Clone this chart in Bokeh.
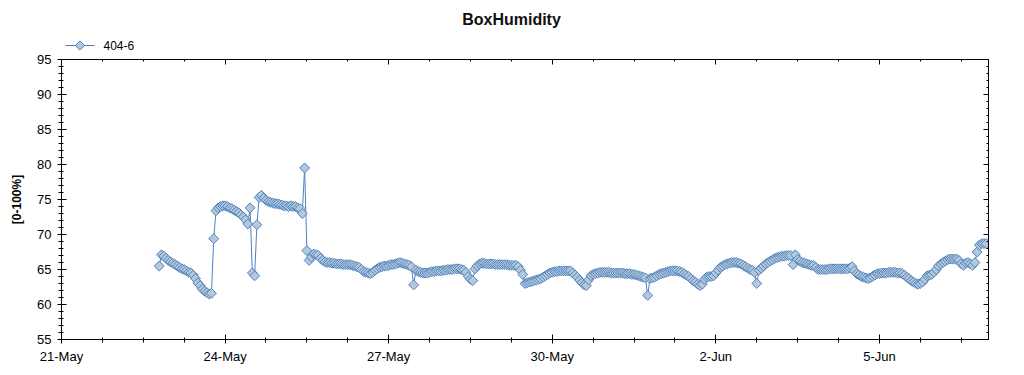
import numpy as np
from bokeh.plotting import figure
from bokeh.layouts import column
from bokeh.models import (FixedTicker, LinearAxis, Range1d, ColumnDataSource,
                          Label)
from bokeh.embed import file_html
from bokeh.resources import INLINE

# ---- data -------------------------------------------------------------
chart_title = "BoxHumidity"
series_name = "404-6"
y_axis_label = "[0-100%]"
x_tick_days = [0, 3, 6, 9, 12, 15]
x_tick_labels = ["21-May", "24-May", "27-May", "30-May", "2-Jun", "5-Jun"]
y_ticks = [55, 60, 65, 70, 75, 80, 85, 90, 95]
first_hour = 43  # hours after 21-May 00:00 of the first reading (hourly data)
humidity = [
    65.5, 67.1, 66.9, 66.6, 66.3,
    66.1, 65.9, 65.7, 65.5, 65.3, 65.1, 65.0, 64.8, 64.6, 64.5,
    64.2, 63.7, 63.1, 62.7, 62.2, 61.9, 61.7, 61.5, 61.6, 69.4,
    73.4, 73.8, 74.0, 74.1, 74.1, 74.0, 73.8, 73.7, 73.5, 73.3,
    73.1, 72.8, 72.5, 72.1, 71.5, 73.8, 64.5, 64.1, 71.4, 75.3,
    75.6, 75.2, 74.9, 74.7, 74.6, 74.5, 74.4, 74.4, 74.3, 74.2,
    74.1, 74.1, 74.0, 74.1, 74.0, 74.0, 73.8, 73.7, 73.0, 79.5,
    67.7, 66.3, 66.8, 67.2, 67.1, 67.0, 66.6, 66.3, 66.1, 66.0,
    66.0, 65.9, 65.9, 65.8, 65.8, 65.8, 65.7, 65.7, 65.7, 65.7,
    65.6, 65.5, 65.4, 65.3, 65.0, 64.7, 64.6, 64.5, 64.4, 64.6,
    64.9, 65.1, 65.3, 65.4, 65.5, 65.5, 65.6, 65.7, 65.7, 65.8,
    65.9, 66.0, 65.9, 65.8, 65.7, 65.6, 65.4, 62.8, 64.9, 64.7,
    64.6, 64.5, 64.5, 64.5, 64.6, 64.7, 64.7, 64.8, 64.8, 64.8,
    64.9, 64.9, 65.0, 65.0, 65.0, 65.1, 65.1, 65.1, 65.0, 64.9,
    64.6, 64.0, 63.6, 63.4, 65.1, 65.5, 65.8, 65.9, 65.9, 65.8,
    65.8, 65.8, 65.8, 65.7, 65.7, 65.7, 65.7, 65.7, 65.7, 65.6,
    65.6, 65.6, 65.6, 65.4, 64.9, 64.3, 63.0, 63.1, 63.2, 63.3,
    63.4, 63.5, 63.6, 63.7, 63.9, 64.1, 64.3, 64.5, 64.6, 64.7,
    64.7, 64.8, 64.8, 64.8, 64.8, 64.8, 64.8, 64.5, 64.2, 63.9,
    63.5, 63.1, 62.8, 62.7, 63.5, 64.1, 64.3, 64.4, 64.5, 64.6,
    64.6, 64.6, 64.6, 64.6, 64.5, 64.5, 64.5, 64.5, 64.5, 64.5,
    64.4, 64.4, 64.4, 64.3, 64.3, 64.2, 64.1, 64.0, 63.9, 63.8,
    61.3, 63.7, 63.8, 63.9, 64.1, 64.3, 64.4, 64.5, 64.6, 64.7,
    64.8, 64.8, 64.8, 64.8, 64.7, 64.6, 64.4, 64.2, 64.0, 63.7,
    63.4, 63.2, 62.9, 62.7, 62.9, 63.6, 63.9, 64.0, 64.0, 64.1,
    64.5, 64.9, 65.3, 65.5, 65.7, 65.8, 65.9, 66.0, 66.0, 66.0,
    65.9, 65.8, 65.6, 65.4, 65.2, 65.0, 64.9, 64.6, 63.0, 64.9,
    65.2, 65.5, 65.8, 66.0, 66.2, 66.4, 66.6, 66.7, 66.8, 66.9,
    66.9, 67.0, 67.0, 67.0, 65.7, 67.1, 66.4, 66.2, 66.0, 65.9,
    65.8, 65.7, 65.6, 65.6, 65.3, 65.0, 65.0, 65.0, 65.0, 65.0,
    65.1, 65.1, 65.1, 65.1, 65.1, 65.1, 65.1, 65.1, 65.1, 65.2,
    65.4, 64.8, 64.4, 64.2, 64.0, 63.9, 63.8, 63.7, 63.8, 64.0,
    64.2, 64.4, 64.4, 64.5, 64.5, 64.5, 64.6, 64.6, 64.6, 64.6,
    64.5, 64.5, 64.4, 64.2, 63.9, 63.7, 63.4, 63.2, 63.0, 62.9,
    63.0, 63.2, 63.6, 64.1, 64.2, 64.3, 64.6, 65.0, 65.5, 65.8,
    66.0, 66.2, 66.4, 66.5, 66.5, 66.5, 66.5, 66.3, 65.8, 65.6,
    65.9, 66.0, 65.8, 65.6, 66.0, 67.5, 68.5, 68.7, 68.7, 68.7,
]

# ---- derived ----------------------------------------------------------
hours = [first_hour + i for i in range(len(humidity))]
days = [h / 24.0 for h in hours]
src = ColumnDataSource(dict(x=days, y=humidity))

x_minor = [float(v) for v in np.arange(0, 17.01, 0.75)]
y_minor = list(range(55, 96))

FONT = "Liberation Sans"
LINE = "#4f81bd"
FILL = "#b4c8dc"
W = 1016
HEAD_H = 52
FRAME_L, FRAME_R = 61, 988   # page pixels of the plot frame (aligned in column)

# ---- header (title + legend key) -------------------------------------
head = figure(width=W, height=HEAD_H, output_backend="svg", toolbar_location=None,
              x_range=Range1d(FRAME_L, FRAME_R), y_range=Range1d(0, HEAD_H),
              min_border=0, outline_line_color=None,
              background_fill_color="white", border_fill_color="white")
head.axis.visible = False
head.xgrid.visible = False
head.ygrid.visible = False
head.add_layout(Label(x=511, y=HEAD_H - 19, text=chart_title, text_font=FONT,
                      text_font_size="16px", text_font_style="bold",
                      text_color="#111111", text_align="center",
                      text_baseline="middle"))
key_y = HEAD_H - 45
head.segment(x0=[65], y0=[key_y], x1=[94], y1=[key_y], line_color=LINE,
             line_width=1)
head.scatter(x=[79.5], y=[key_y], marker="square", angle=np.pi / 4, size=6.5,
             fill_color=FILL, line_color=LINE, line_width=1)
head.add_layout(Label(x=103, y=key_y, text=series_name, text_font=FONT,
                      text_font_size="12px", text_color="black",
                      text_align="left", text_baseline="middle"))

# ---- main chart -------------------------------------------------------
p = figure(width=W, height=367 - HEAD_H, output_backend="svg",
           toolbar_location=None,
           x_range=Range1d(0, 17), y_range=Range1d(55, 95),
           min_border_left=61, min_border_right=28, min_border_top=59 - HEAD_H,
           min_border_bottom=28, background_fill_color="white",
           border_fill_color="white")

p.xgrid.visible = False
p.ygrid.visible = False
p.outline_line_color = "black"
p.outline_line_alpha = 1.0

xt = FixedTicker(ticks=x_tick_days, minor_ticks=x_minor)
yt = FixedTicker(ticks=y_ticks, minor_ticks=y_minor)

xa = p.xaxis[0]
xa.ticker = xt
xa.major_label_overrides = {d: lab for d, lab in zip(x_tick_days, x_tick_labels)}
ya = p.yaxis[0]
ya.ticker = yt
ya.axis_label = y_axis_label
ya.axis_label_text_font = FONT
ya.axis_label_text_font_style = "bold"
ya.axis_label_text_font_size = "12px"
ya.axis_label_text_color = "black"
ya.axis_label_standoff = 10

for ax in (xa, ya):
    ax.axis_line_color = "black"
    ax.major_tick_line_color = "black"
    ax.minor_tick_line_color = "black"
    ax.major_tick_in = 5
    ax.major_tick_out = 4
    ax.minor_tick_in = 2
    ax.minor_tick_out = 3
    ax.major_label_text_font = FONT
    ax.major_label_text_font_size = "13px"
    ax.major_label_text_color = "black"
xa.major_label_standoff = 5
ya.major_label_standoff = 6

# inward-only ticks on the top and right edges (labels hidden)
for loc, tk in (("above", xt), ("right", yt)):
    ax = LinearAxis(ticker=tk, major_label_text_font_size="1px",
                    major_label_text_color=None, major_label_standoff=0,
                    major_tick_out=0, minor_tick_out=0,
                    major_tick_in=5, minor_tick_in=2, axis_line_color="black",
                    major_tick_line_color="black", minor_tick_line_color="black")
    p.add_layout(ax, loc)

p.line("x", "y", source=src, line_color=LINE, line_width=1)
p.scatter("x", "y", source=src, marker="square", angle=np.pi / 4,
          size=7, fill_color=FILL, line_color=LINE, line_width=1)

layout = column(head, p, spacing=0)
open("out.html", "w").write(file_html(layout, INLINE))
